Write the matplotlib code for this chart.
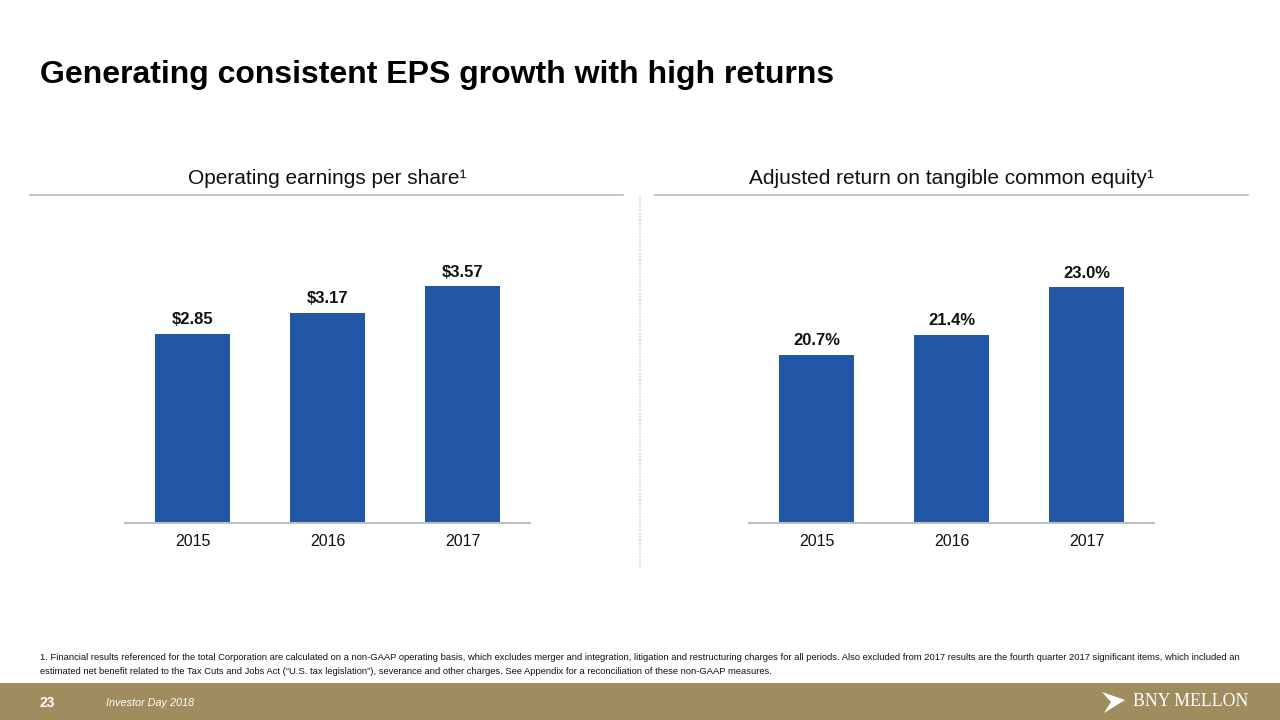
import matplotlib as mpl
mpl.use('Agg')
import matplotlib.pyplot as plt
from matplotlib.patches import Rectangle, Polygon
from matplotlib.lines import Line2D

plt.rcParams['font.family'] = ['Liberation Sans', 'DejaVu Sans']

# data
years = ['2015', '2016', '2017']
eps = [2.85, 3.17, 3.57]
rotce = [20.7, 21.4, 23.0]
eps_labels = ['$2.85', '$3.17', '$3.57']
rotce_labels = ['20.7%', '21.4%', '23.0%']

BLUE = '#2257A6'
GOLD = '#A08D5F'
GREY = '#BFBFBF'

W, H = 1280, 720


def fx(px):
	return px / W


def fy(py):
	# pixel row (from top) to figure fraction
	return 1 - py / H


def bar_panel(fig, left_px, values, labels, ylim):
	ax = fig.add_axes([fx(left_px), fy(523), fx(405), 265 / H])
	x = range(len(values))
	bars = ax.bar(x, [v - ylim[0] for v in values], bottom=ylim[0],
		width=0.55, color=BLUE)
	for b, lab in zip(bars, labels):
		ax.annotate(lab, (b.get_x() + b.get_width() / 2, b.get_y() + b.get_height()),
			xytext=(0, 5), textcoords='offset points', ha='center', va='bottom',
			fontsize=12, fontweight='bold', color='#111111')
	ax.set_xlim(-0.5, 2.5)
	ax.set_ylim(*ylim)
	ax.set_xticks(list(x))
	ax.set_xticklabels(years, fontsize=11.5, color='#111111')
	ax.tick_params(axis='x', length=0, pad=8)
	ax.set_yticks([])
	for s in ('top', 'left', 'right'):
		ax.spines[s].set_visible(False)
	ax.spines['bottom'].set_color(GREY)
	ax.spines['bottom'].set_linewidth(1.5)
	return ax


fig = plt.figure(figsize=(12.8, 7.2), dpi=100)

fig.text(fx(40), fy(75), 'Generating consistent EPS growth with high returns',
	fontsize=23, fontweight='bold', ha='left', va='center', color='#000000')

# panel headings and rules
fig.text(fx(327), fy(178), 'Operating earnings per share\u00b9', fontsize=15,
	ha='center', va='center', color='#111111')
fig.text(fx(951), fy(178), 'Adjusted return on tangible common equity\u00b9', fontsize=15,
	ha='center', va='center', color='#111111')
fig.add_artist(Line2D([fx(30), fx(623)], [fy(195), fy(195)], color=GREY, lw=1.3))
fig.add_artist(Line2D([fx(655), fx(1248)], [fy(195), fy(195)], color=GREY, lw=1.3))
fig.add_artist(Line2D([fx(640), fx(640)], [fy(196), fy(568)], color='#D0D0D0',
	lw=1.2, ls=(0, (1, 1))))

bar_panel(fig, 125, eps, eps_labels, (0, 4.0))
bar_panel(fig, 749, rotce, rotce_labels, (15, 24.0))

# footnote
fig.text(fx(40), fy(658), '1. Financial results referenced for the total Corporation are calculated on a '
	'non-GAAP operating basis, which excludes merger and integration, litigation and restructuring '
	'charges for all periods. Also excluded from 2017 results are the fourth quarter 2017 significant '
	'items, which included an', fontsize=6.75, ha='left', va='center', color='#111111')
fig.text(fx(40), fy(671), 'estimated net benefit related to the Tax Cuts and Jobs Act (\u201cU.S. tax '
	'legislation\u201d), severance and other charges. See Appendix for a reconciliation of these '
	'non-GAAP measures.', fontsize=6.75, ha='left', va='center', color='#111111')

# footer band
fig.add_artist(Rectangle((0, 0), 1, fy(683), transform=fig.transFigure,
	facecolor=GOLD, edgecolor='none'))
fig.text(fx(40), fy(703), '23', fontsize=10, fontweight='bold', color='white',
	ha='left', va='center')
fig.text(fx(106), fy(703), 'Investor Day 2018', fontsize=7.8, fontstyle='italic',
	color='white', ha='left', va='center')
logo = [(1102, 692), (1125, 700), (1104, 713), (1111, 702)]
fig.add_artist(Polygon([(fx(px), fy(py)) for px, py in logo], closed=True,
	transform=fig.transFigure, facecolor='white', edgecolor='none'))
fig.text(fx(1248), fy(702), 'BNY MELLON', family='Liberation Serif', fontsize=12.8,
	color='white', ha='right', va='center')

fig.savefig('out.png', dpi=100, facecolor='white')
